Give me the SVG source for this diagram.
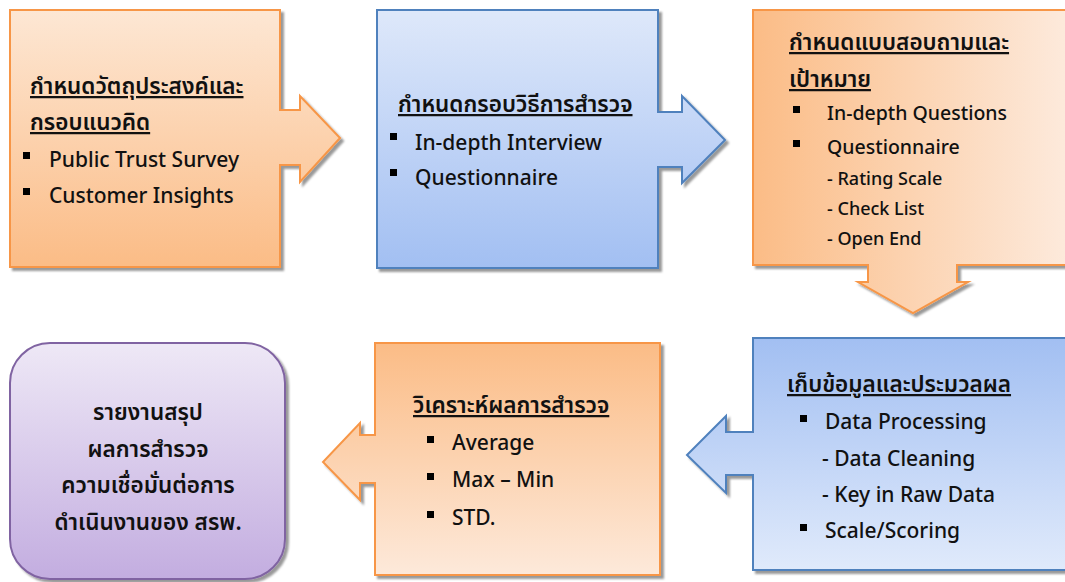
<svg xmlns="http://www.w3.org/2000/svg" width="1065" height="582" viewBox="0 0 1065 582">
<defs>
<linearGradient id="gOrDown" x1="0" y1="0" x2="0" y2="1"><stop offset="0" stop-color="#fde7d4"/><stop offset="1" stop-color="#fbbc86"/></linearGradient>
<linearGradient id="gOrUp" x1="0" y1="0" x2="0" y2="1"><stop offset="0" stop-color="#fbbc86"/><stop offset="1" stop-color="#fde9da"/></linearGradient>
<linearGradient id="gOrH" x1="0" y1="0" x2="1" y2="0"><stop offset="0" stop-color="#fbbc86"/><stop offset="1" stop-color="#fdebde"/></linearGradient>
<linearGradient id="gBlDown" x1="0" y1="0" x2="0" y2="1"><stop offset="0" stop-color="#dee8fa"/><stop offset="1" stop-color="#a2bff2"/></linearGradient>
<linearGradient id="gBlUp" x1="0" y1="0" x2="0" y2="1"><stop offset="0" stop-color="#a2bff2"/><stop offset="1" stop-color="#e0eafb"/></linearGradient>
<linearGradient id="gPu" x1="0" y1="0" x2="0" y2="1"><stop offset="0" stop-color="#eee8f6"/><stop offset="1" stop-color="#c3ade0"/></linearGradient>
<filter id="sh" x="-10%" y="-10%" width="130%" height="130%"><feDropShadow dx="3" dy="3" stdDeviation="1.2" flood-color="#000" flood-opacity="0.4"/></filter>
<style>
.or{stroke:#f79646;stroke-width:2;filter:url(#sh)}
.bl{stroke:#4f81bd;stroke-width:2;filter:url(#sh)}
.pu{stroke:#8064a2;stroke-width:2;filter:url(#sh)}
text{font-family:"Noto Sans","Noto Sans Thai","Leelawadee UI",Tahoma,sans-serif;fill:#111;font-size:21px;font-weight:500}
.t{font-size:22.5px;font-weight:600}
.h{text-decoration:underline}
.m{font-size:19.5px}
.s{font-size:18px}
.c{text-anchor:middle}
.b{fill:#000}
</style>
</defs>

<g id="node1">
<path class="or" fill="url(#gOrDown)" d="M10,10 H280 V110 H300 V96 L340,138 L300,182 V165 H280 V267 H10 Z"/>
<text class="t h" x="30" y="94">กำหนดวัตถุประสงค์และ</text>
<text class="t h" x="30" y="130">กรอบแนวคิด</text>
<rect class="b" x="23" y="152" width="7" height="7"/>
<text x="49" y="167">Public Trust Survey</text>
<rect class="b" x="23" y="188" width="7" height="7"/>
<text x="49" y="203">Customer Insights</text>
</g>

<g id="node2">
<path class="bl" fill="url(#gBlDown)" d="M377,10 H658 V112 H682 V96 L725,140 L682,183 V167 H658 V268 H377 Z"/>
<text class="t h" x="398" y="112">กำหนดกรอบวิธีการสำรวจ</text>
<rect class="b" x="390" y="133" width="7" height="7"/>
<text x="415" y="150">In-depth Interview</text>
<rect class="b" x="390" y="169" width="7" height="7"/>
<text x="415" y="185">Questionnaire</text>
</g>

<g id="node3">
<path class="or" fill="url(#gOrH)" d="M753,10 H1075 V265 H957 V282 H968 L913,313 L858,282 H868 V265 H753 Z"/>
<text class="t h" x="789" y="50">กำหนดแบบสอบถามและ</text>
<text class="t h" x="789" y="87">เป้าหมาย</text>
<rect class="b" x="793" y="106" width="7" height="7"/>
<text class="m" x="827" y="120">In-depth Questions</text>
<rect class="b" x="793" y="140" width="7" height="7"/>
<text class="m" x="827" y="154">Questionnaire</text>
<text class="s" x="827" y="185">- Rating Scale</text>
<text class="s" x="827" y="215">- Check List</text>
<text class="s" x="827" y="245">- Open End</text>
</g>

<g id="node4">
<path class="bl" fill="url(#gBlUp)" d="M753,338 H1075 V570 H753 V475 H726 V493 L687,455 L726,416 V432 H753 Z"/>
<text class="t h" x="787" y="392">เก็บข้อมูลและประมวลผล</text>
<rect class="b" x="800" y="415" width="7" height="7"/>
<text x="825" y="429">Data Processing</text>
<text x="822" y="466">- Data Cleaning</text>
<text x="822" y="502">- Key in Raw Data</text>
<rect class="b" x="800" y="524" width="7" height="7"/>
<text x="825" y="538">Scale/Scoring</text>
</g>

<g id="node5">
<path class="or" fill="url(#gOrUp)" d="M375,343 H660 V575 H375 V483 H360 V500 L323,462 L360,423 V435 H375 Z"/>
<text class="t h" x="413" y="413">วิเคราะห์ผลการสำรวจ</text>
<rect class="b" x="427" y="436" width="7" height="7"/>
<text x="452" y="450">Average</text>
<rect class="b" x="427" y="473" width="7" height="7"/>
<text x="452" y="487">Max – Min</text>
<rect class="b" x="427" y="511" width="7" height="7"/>
<text x="452" y="525">STD.</text>
</g>

<g id="node6">
<rect class="pu" fill="url(#gPu)" x="10" y="343" width="275" height="236" rx="40" ry="40"/>
<text class="t c" x="148" y="420">รายงานสรุป</text>
<text class="t c" x="148" y="457">ผลการสำรวจ</text>
<text class="t c" x="148" y="493">ความเชื่อมั่นต่อการ</text>
<text class="t c" x="148" y="530">ดำเนินงานของ สรพ.</text>
</g>

<g id="connectors"></g>
</svg>
